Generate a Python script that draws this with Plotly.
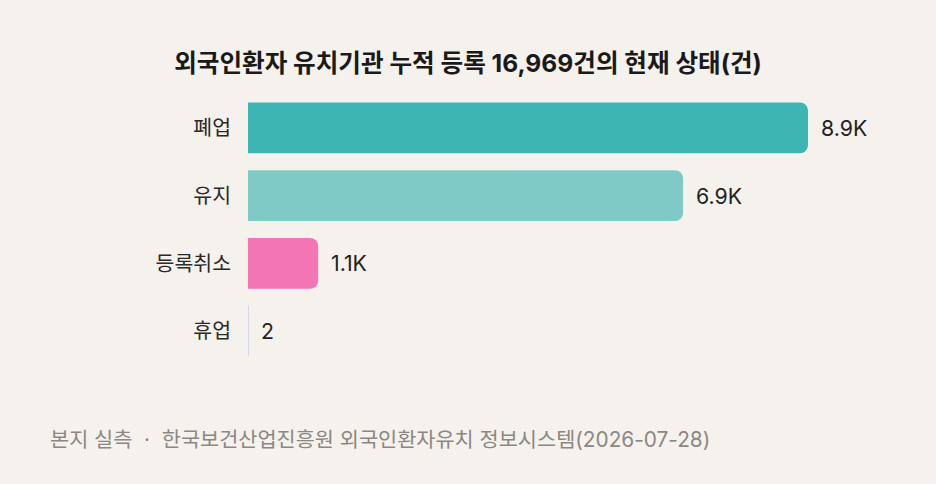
import plotly.graph_objects as go

categories = ["폐업", "유지", "등록취소", "휴업"]
values = [8920, 6930, 1117, 2]
colors = ["#3db5b3", "#7fcac7", "#f475b5", "#d9d4ee"]
title_text = "외국인환자 유치기관 누적 등록 16,969건의 현재 상태(건)"
source_text = "본지 실측\u00a0\u00a0·\u00a0\u00a0한국보건산업진흥원 외국인환자유치 정보시스템(2026-07-28)"


def fmt(v):
    return f"{v/1000:.1f}K" if v >= 1000 else str(v)


labels = [fmt(v) for v in values]
FONT = "Inter, Noto Sans CJK KR, sans-serif"

W, H = 936, 484
L, R, T, B = 248, 40, 93.5, 118.5

fig = go.Figure(
    go.Bar(
        y=categories,
        x=values,
        orientation="h",
        marker=dict(color=colors, line=dict(width=0)),
        hoverinfo="skip",
    )
)

for c, v, t in zip(categories, values, labels):
    fig.add_annotation(
        x=v, y=c, text=t, xanchor="left", yanchor="middle", xshift=11,
        showarrow=False, font=dict(size=21.3, color="#222222", family=FONT),
    )

plot_w = W - L - R
plot_h = H - T - B
fig.add_annotation(
    x=(48 - L) / plot_w, y=(H - B - 440) / plot_h, xref="paper", yref="paper",
    text=source_text, showarrow=False, xanchor="left", yanchor="middle",
    font=dict(size=20.8, color="#8c8782", family=FONT),
)

fig.update_layout(
    width=W,
    height=H,
    paper_bgcolor="#f5f1ec",
    plot_bgcolor="#f5f1ec",
    margin=dict(l=L, r=R, t=T, b=B),
    bargap=0.25,
    barcornerradius=8,
    showlegend=False,
    title=dict(
        text=f"<b>{title_text}</b>",
        x=0.5, xanchor="center", xref="container",
        y=1 - 63 / H, yanchor="middle", yref="container",
        font=dict(size=24.6, color="#1a1a1a", family=FONT),
    ),
    font=dict(family=FONT),
    xaxis=dict(
        range=[0, max(values) * 648 / 560],
        visible=False,
        fixedrange=True,
    ),
    yaxis=dict(
        categoryorder="array",
        categoryarray=categories[::-1],
        autorange=False,
        range=[-0.5, len(categories) - 0.5],
        showgrid=False,
        zeroline=False,
        showline=False,
        ticks="",
        ticklabelstandoff=16,
        tickfont=dict(size=20.5, color="#2a2a2a", family=FONT),
    ),
)

fig.write_html(
    "out.html",
    config={"displayModeBar": False},
    post_script="document.body.style.margin='0';document.body.style.background='#f5f1ec';",
)
